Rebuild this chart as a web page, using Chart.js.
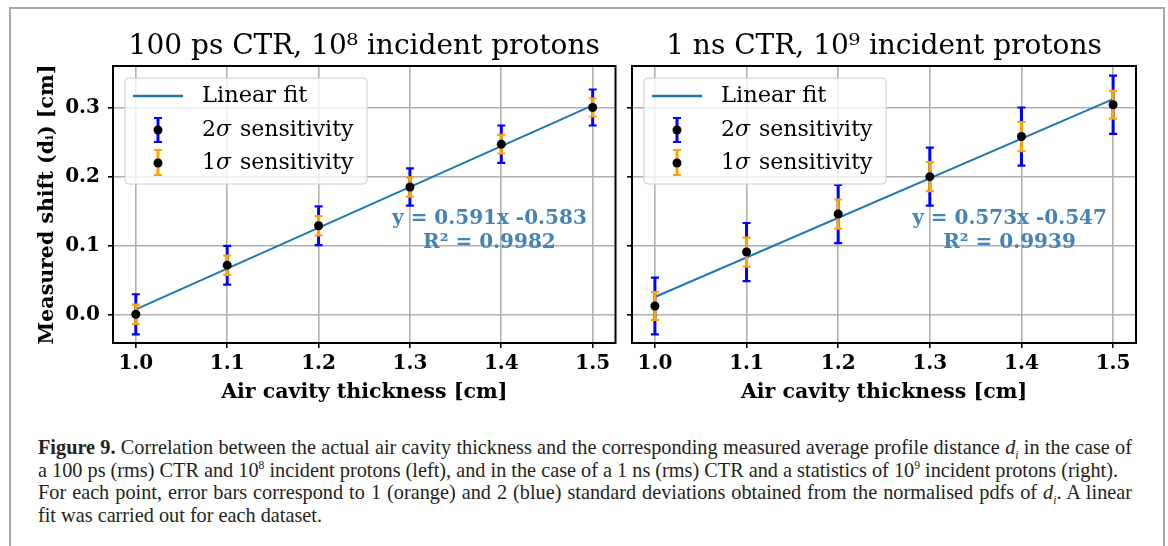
<!DOCTYPE html>
<html>
<head>
<meta charset="utf-8">
<script src="https://cdn.jsdelivr.net/npm/chart.js@4.4.1/dist/chart.umd.min.js"></script>
<style>
body { margin: 0; background: #fff; width: 1168px; height: 546px; overflow: hidden; position: relative; }
#frame { position: absolute; left: 9px; top: 7px; width: 1152px; height: 600px; border: 2px solid #a8a8a8; border-bottom: none; }
#cL { position: absolute; left: 0; top: 0; }
#cR { position: absolute; left: 620px; top: 0; }
#caption { position: absolute; left: 38px; top: 436px; width: 1094px; transform-origin: 0 0;
           font-family: "Liberation Serif", serif; font-size: 21px; line-height: 22.6px; color: #231f20; }
#caption .ln { text-align: justify; text-align-last: justify; }
#caption .free { text-align: left; }
#caption sup, #caption sub { font-size: 12px; line-height: 0; }
</style>
</head>
<body>
<div id="frame"></div>
<canvas id="cL" width="620" height="420"></canvas>
<canvas id="cR" width="548" height="420"></canvas>
<div id="caption">
  <div class="ln"><b>Figure 9.</b> Correlation between the actual air cavity thickness and the corresponding measured average profile distance <i>d<sub>i</sub></i> in the case of</div>
  <div class="free">a 100 ps (rms) CTR and 10<sup>8</sup> incident protons (left), and in the case of a 1 ns (rms) CTR and a statistics of 10<sup>9</sup> incident protons (right).</div>
  <div class="ln">For each point, error bars correspond to 1 (orange) and 2 (blue) standard deviations obtained from the normalised pdfs of <i>d<sub>i</sub></i>. A linear</div>
  <div class="free">fit was carried out for each dataset.</div>
</div>
<script>
// air cavity thickness [cm]
var thickness = [1.0, 1.1, 1.2, 1.3, 1.4, 1.5];
// left panel: 100 ps CTR, 1e8 protons
var shiftLeft = [0.001, 0.072, 0.129, 0.185, 0.247, 0.300];
var sigma2Left = [0.029, 0.028, 0.028, 0.027, 0.027, 0.026];
var sigma1Left = [0.014, 0.014, 0.014, 0.014, 0.0135, 0.013];
// right panel: 1 ns CTR, 1e9 protons
var shiftRight = [0.013, 0.091, 0.146, 0.200, 0.258, 0.304];
var sigma2Right = [0.041, 0.042, 0.042, 0.042, 0.042, 0.042];
var sigma1Right = [0.020, 0.021, 0.021, 0.021, 0.021, 0.020];
// linear fit end points
var fitX = [1.0, 1.5];
var fitLeft = [0.008, 0.303];
var fitRight = [0.026, 0.312];

var xTicks = [1.0, 1.1, 1.2, 1.3, 1.4, 1.5];
var yTicks = [0.0, 0.1, 0.2, 0.3];
var titles = ["100 ps CTR, 10\u2078 incident protons", "1 ns CTR, 10\u2079 incident protons"];
var fitTextLeft = ["y = 0.591x -0.583", "R\u00b2 = 0.9982"];
var fitTextRight = ["y = 0.573x -0.547", "R\u00b2 = 0.9939"];
var legendLabels = ["Linear fit", "2", "1"];

var SERIF = "DejaVu Serif";

// squeeze the caption so that line 2 has its natural length, like the printed figure
function fitCaption() {
    var cap = document.getElementById("caption");
    var lines = cap.children;
    var widths = [];
    for (var i = 0; i < lines.length; i++) {
        lines[i].style.display = "inline-block";
        lines[i].style.whiteSpace = "nowrap";
        widths.push(lines[i].getBoundingClientRect().width);
        lines[i].style.display = "";
        lines[i].style.whiteSpace = "";
    }
    var k = Math.min(1080 / widths[1], 1090 / widths[0], 1090 / widths[2]);
    cap.style.width = (1094 / k) + "px";
    cap.style.transform = "scaleX(" + k + ")";
}
fitCaption();

function drawBar(ctx, x, yTop, yBot, color) {
    ctx.save();
    ctx.strokeStyle = color;
    ctx.lineWidth = 3;
    ctx.beginPath();
    ctx.moveTo(x, yTop);
    ctx.lineTo(x, yBot);
    ctx.stroke();
    ctx.lineWidth = 2.2;
    ctx.beginPath();
    ctx.moveTo(x - 4, yTop);
    ctx.lineTo(x + 4, yTop);
    ctx.moveTo(x - 4, yBot);
    ctx.lineTo(x + 4, yBot);
    ctx.stroke();
    ctx.restore();
}

function sigmaLabel(ctx, x, y, num) {
    ctx.textAlign = "left";
    ctx.font = "22px '" + SERIF + "'";
    ctx.fillText(num, x, y);
    var w = ctx.measureText(num).width;
    ctx.font = "italic 22px '" + SERIF + "'";
    ctx.fillText("\u03c3", x + w, y);
    w += ctx.measureText("\u03c3").width;
    ctx.font = "22px '" + SERIF + "'";
    ctx.fillText(" sensitivity", x + w + 2, y);
}

function makeChart(canvasId, ys, err2, err1, fitY, title, fitText, showYLabels) {
    var extras = {
        id: "extras" + canvasId,
        beforeDatasetDraw: function (chart, args) {
            if (args.index !== 1) return;
            var ctx = chart.ctx, sx = chart.scales.x, sy = chart.scales.y;
            for (var i = 0; i < thickness.length; i++) {
                var px = sx.getPixelForValue(thickness[i]);
                drawBar(ctx, px, sy.getPixelForValue(ys[i] + err2[i]), sy.getPixelForValue(ys[i] - err2[i]), "#0000ff");
            }
            for (var j = 0; j < thickness.length; j++) {
                var qx = sx.getPixelForValue(thickness[j]);
                drawBar(ctx, qx, sy.getPixelForValue(ys[j] + err1[j]), sy.getPixelForValue(ys[j] - err1[j]), "#ffa500");
            }
        },
        afterDraw: function (chart) {
            var ctx = chart.ctx, a = chart.chartArea, sx = chart.scales.x, sy = chart.scales.y;
            // fit equation
            ctx.save();
            ctx.fillStyle = "#4682b4";
            ctx.font = "bold 20px '" + SERIF + "'";
            ctx.textAlign = "center";
            ctx.textBaseline = "middle";
            ctx.fillText(fitText[0], sx.getPixelForValue(1.387), sy.getPixelForValue(0.139));
            ctx.fillText(fitText[1], sx.getPixelForValue(1.387), sy.getPixelForValue(0.104));
            ctx.restore();

            // legend box
            var lx = a.left + 12, ly = a.top + 12;
            ctx.save();
            ctx.fillStyle = "rgba(255,255,255,0.8)";
            ctx.strokeStyle = "#cccccc";
            ctx.lineWidth = 1;
            ctx.beginPath();
            ctx.roundRect(lx, ly, 242, 106, 4);
            ctx.fill();
            ctx.stroke();
            ctx.strokeStyle = "#1f77b4";
            ctx.lineWidth = 2.5;
            ctx.beginPath();
            ctx.moveTo(a.left + 20, a.top + 30);
            ctx.lineTo(a.left + 70, a.top + 30);
            ctx.stroke();
            drawBar(ctx, a.left + 45, a.top + 52, a.top + 76, "#0000ff");
            drawBar(ctx, a.left + 45, a.top + 84, a.top + 109, "#ffa500");
            ctx.fillStyle = "#000";
            ctx.beginPath();
            ctx.arc(a.left + 45, a.top + 64, 4.5, 0, Math.PI * 2);
            ctx.fill();
            ctx.beginPath();
            ctx.arc(a.left + 45, a.top + 97, 4.5, 0, Math.PI * 2);
            ctx.fill();
            ctx.textBaseline = "middle";
            ctx.textAlign = "left";
            ctx.font = "22.5px '" + SERIF + "'";
            ctx.fillText(legendLabels[0], a.left + 89, a.top + 30);
            sigmaLabel(ctx, a.left + 89, a.top + 64, legendLabels[1]);
            sigmaLabel(ctx, a.left + 89, a.top + 97, legendLabels[2]);

            // axes frame
            ctx.strokeStyle = "#000";
            ctx.lineWidth = 2;
            ctx.strokeRect(a.left, a.top, a.right - a.left, a.bottom - a.top);
            ctx.restore();
        }
    };

    var points = thickness.map(function (t, i) { return { x: t, y: ys[i] }; });
    var fitLine = fitX.map(function (t, i) { return { x: t, y: fitY[i] }; });

    return new Chart(document.getElementById(canvasId), {
        type: "scatter",
        data: {
            datasets: [{
                label: "Linear fit",
                data: fitLine,
                showLine: true,
                borderColor: "#1f77b4",
                borderWidth: 2,
                pointRadius: 0,
                order: 2
            }, {
                label: "points",
                data: points,
                pointRadius: 4.5,
                pointBackgroundColor: "#000",
                pointBorderWidth: 0,
                order: 1
            }]
        },
        options: {
            responsive: false,
            animation: false,
            events: [],
            layout: {
                padding: showYLabels ? { left: 30, right: 3, top: 30, bottom: 15 } : { left: 0, right: 32, top: 30, bottom: 15 }
            },
            plugins: {
                legend: { display: false },
                tooltip: { enabled: false },
                title: {
                    display: true,
                    fullSize: false,
                    text: title,
                    color: "#000",
                    font: { family: SERIF, size: 28, weight: "normal", lineHeight: 1.2 },
                    padding: { top: 0, bottom: 2.4 }
                }
            },
            scales: {
                x: {
                    type: "linear",
                    min: 0.975,
                    max: 1.525,
                    afterBuildTicks: function (s) { s.ticks = xTicks.map(function (v) { return { value: v }; }); },
                    afterFit: function (s) { s.height = 62; },
                    grid: { color: "#b0b0b0", lineWidth: 1.6, tickColor: "#000", tickLength: 5, drawTicks: true },
                    border: { display: false },
                    ticks: {
                        color: "#000",
                        padding: 4,
                        maxRotation: 0,
                        font: { family: SERIF, size: 20, weight: "bold" },
                        callback: function (v) { return v.toFixed(1); }
                    },
                    title: {
                        display: true,
                        text: "Air cavity thickness [cm]",
                        color: "#000",
                        font: { family: SERIF, size: 20.5, weight: "bold", lineHeight: 1.2 },
                        padding: { top: 0, bottom: 0 }
                    }
                },
                y: {
                    type: "linear",
                    min: -0.0405,
                    max: 0.36,
                    afterBuildTicks: function (s) { s.ticks = yTicks.map(function (v) { return { value: v }; }); },
                    afterFit: function (s) { s.width = showYLabels ? 83 : 12; },
                    grid: { color: "#b0b0b0", lineWidth: 1.6, tickColor: "#000", tickLength: 5, drawTicks: true },
                    border: { display: false },
                    ticks: {
                        display: showYLabels,
                        color: "#000",
                        padding: 8,
                        font: { family: SERIF, size: 20, weight: "bold" },
                        callback: function (v) { return v.toFixed(1); }
                    },
                    title: {
                        display: showYLabels,
                        text: "Measured shift (d\u1d62) [cm]",
                        color: "#000",
                        font: { family: SERIF, size: 20.5, weight: "bold", lineHeight: 1.2 },
                        padding: { top: 5, bottom: 0 }
                    }
                }
            }
        },
        plugins: [extras]
    });
}

makeChart("cL", shiftLeft, sigma2Left, sigma1Left, fitLeft, titles[0], fitTextLeft, true);
makeChart("cR", shiftRight, sigma2Right, sigma1Right, fitRight, titles[1], fitTextRight, false);
</script>
</body>
</html>
